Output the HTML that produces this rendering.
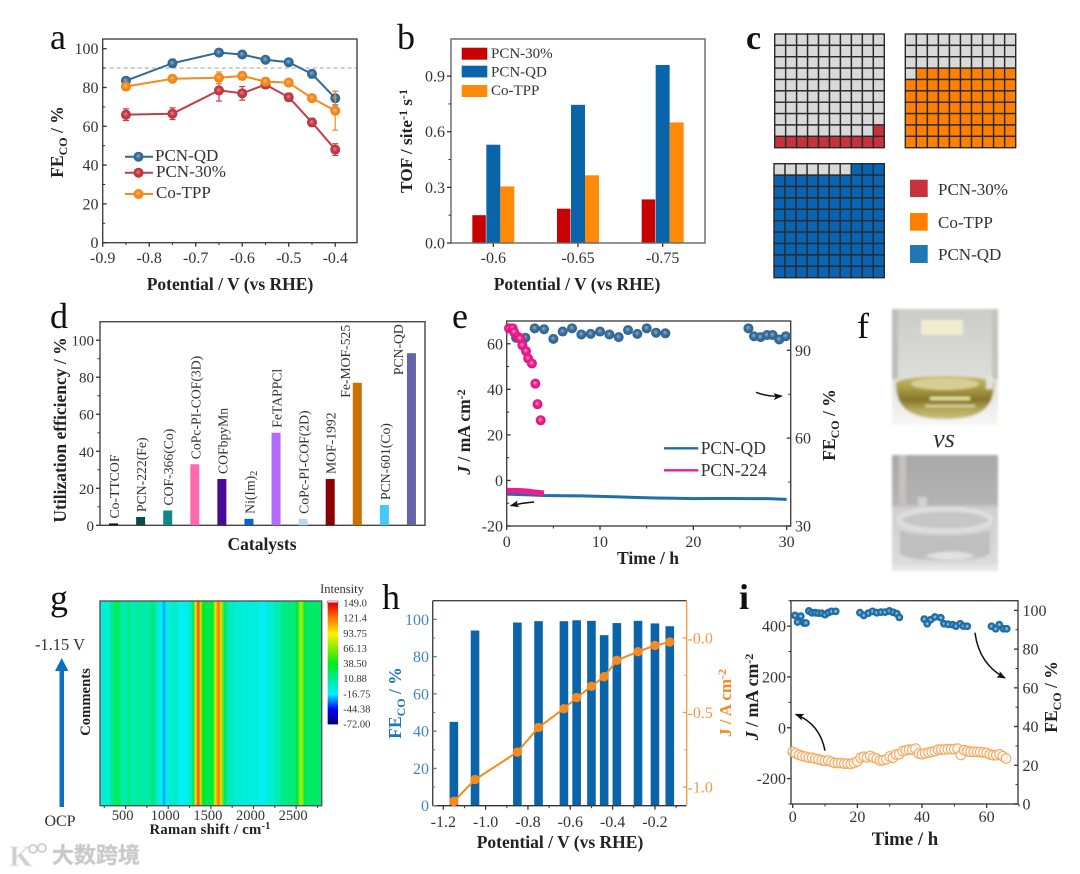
<!DOCTYPE html>
<html lang="en">
<head>
<meta charset="utf-8">
<title>Electrocatalysis figure panels a–i</title>
<style>
html,body{margin:0;padding:0;background:#fff;width:1080px;height:874px;overflow:hidden}
svg{display:block;filter:blur(.35px)}
text{font-family:"Liberation Serif","Noto Serif CJK SC",serif;fill:#333}
.t{font-weight:bold;fill:#222;font-size:17.5px}
.p{font-size:36px;fill:#111}
.l{font-size:17px;fill:#333}
</style>
</head>
<body>
<svg id="figure" xmlns="http://www.w3.org/2000/svg" width="1080" height="874" viewBox="0 0 1080 874">
<defs>
<radialGradient id="ball-blue" cx=".5" cy=".5" r=".55" fx=".45" fy=".42"><stop offset="0" stop-color="#8fb4cf"/><stop offset=".45" stop-color="#3a6f9c"/><stop offset="1" stop-color="#2a5f8c"/></radialGradient>
<radialGradient id="ball-red" cx=".5" cy=".5" r=".55" fx=".45" fy=".42"><stop offset="0" stop-color="#e08a90"/><stop offset=".45" stop-color="#c53c48"/><stop offset="1" stop-color="#b8303c"/></radialGradient>
<radialGradient id="ball-orange" cx=".5" cy=".5" r=".55" fx=".45" fy=".42"><stop offset="0" stop-color="#fbc080"/><stop offset=".45" stop-color="#f58a1f"/><stop offset="1" stop-color="#ee8010"/></radialGradient>
<radialGradient id="ball-pink" cx=".5" cy=".5" r=".55" fx=".45" fy=".42"><stop offset="0" stop-color="#f8a8d0"/><stop offset=".45" stop-color="#ee1c8c"/><stop offset="1" stop-color="#e01080"/></radialGradient>
<radialGradient id="ball-i" cx=".5" cy=".5" r=".55"><stop offset="0" stop-color="#b8d8ec"/><stop offset=".5" stop-color="#1f6fa8"/><stop offset="1" stop-color="#1a68a0"/></radialGradient>
<marker id="head" markerWidth="9" markerHeight="7" refX="8" refY="3.5" orient="auto" markerUnits="userSpaceOnUse"><path d="M0 0L9 3.5L0 7L2 3.5Z" fill="#111"/></marker>
<clipPath id="heat-clip"><rect x="100" y="601" width="221.7" height="204.7"/></clipPath>
<filter id="soft" x="-5%" y="-5%" width="110%" height="110%"><feGaussianBlur stdDeviation="0.6"/></filter>
<filter id="soft2" x="-5%" y="-5%" width="110%" height="110%"><feGaussianBlur stdDeviation="1.4"/></filter>
<linearGradient id="photo1-bg" x1="0" y1="0" x2="0" y2="1"><stop offset="0" stop-color="#cbccc8"/><stop offset=".55" stop-color="#dcdcd8"/><stop offset=".75" stop-color="#e8e8e4"/><stop offset="1" stop-color="#f6f6f4"/></linearGradient>
<linearGradient id="photo1-liquid" x1="0" y1="0" x2="0" y2="1"><stop offset="0" stop-color="#c7bb6a"/><stop offset=".3" stop-color="#a89a42"/><stop offset=".55" stop-color="#83762a"/><stop offset=".8" stop-color="#b7ab5c"/><stop offset="1" stop-color="#c7bf84"/></linearGradient>
<linearGradient id="photo2-bg" x1="0" y1="0" x2="0" y2="1"><stop offset="0" stop-color="#a9a8a8"/><stop offset=".42" stop-color="#b4b3b3"/><stop offset=".46" stop-color="#cfcfcf"/><stop offset="1" stop-color="#dcdcdc"/></linearGradient>
</defs>

<rect x="0" y="0" width="1080" height="874" fill="#fff"/>

<g id="panel-a"></g>
<g id="panel-b"></g>
<g id="panel-c"></g>
<g id="panel-d"></g>
<g id="panel-e"></g>
<g id="panel-g"></g>
<g id="panel-h"></g>
<g id="panel-i"></g>

<!-- panel letters -->
<text class="p" x="50" y="49">a</text>
<text class="p" x="397" y="49">b</text>
<text class="p" x="746" y="49" style="font-weight:bold;font-size:34px">c</text>
<text class="p" x="50" y="328">d</text>
<text class="p" x="452" y="328">e</text>
<text class="p" x="857" y="338">f</text>
<text class="p" x="50" y="610">g</text>
<text class="p" x="382" y="609">h</text>
<text class="p" x="739" y="609" style="font-weight:bold">i</text>

<!-- panel a static -->
<text class="t" x="230" y="290" text-anchor="middle">Potential / V (vs RHE)</text>
<text class="t" transform="translate(63 142) rotate(-90)" text-anchor="middle">FE<tspan font-size="12" dy="4">CO</tspan><tspan dy="-4"> / %</tspan></text>
<g>
<line x1="125" x2="153" y1="156.7" y2="156.7" stroke="#2f6a93" stroke-width="2"/><circle cx="138.5" cy="156.7" r="5" fill="url(#ball-blue)"/>
<text class="l" x="155" y="161">PCN-QD</text>
<line x1="125" x2="153" y1="172.7" y2="172.7" stroke="#c53c48" stroke-width="2"/><circle cx="138.5" cy="172.7" r="5" fill="url(#ball-red)"/>
<text class="l" x="156" y="177">PCN-30%</text>
<line x1="125" x2="153" y1="194" y2="194" stroke="#f58a1f" stroke-width="2"/><circle cx="138.5" cy="194" r="5" fill="url(#ball-orange)"/>
<text class="l" x="156" y="198">Co-TPP</text>
</g>

<!-- panel b static -->
<text class="t" x="577" y="290" text-anchor="middle">Potential / V (vs RHE)</text>
<text class="t" transform="translate(412 141) rotate(-90)" text-anchor="middle" style="font-size:17.3px">TOF / site<tspan font-size="12" dy="-5">-1</tspan><tspan dy="5"> s</tspan><tspan font-size="12" dy="-5">-1</tspan></text>
<g>
<rect x="461.7" y="47.7" width="25.6" height="12" fill="#c80000"/><text class="l" x="491" y="58" style="font-size:15px">PCN-30%</text>
<rect x="461.7" y="65.7" width="25.6" height="11.7" fill="#0a64aa"/><text class="l" x="491" y="76.5" style="font-size:15px">PCN-QD</text>
<rect x="461.7" y="85" width="25.6" height="12" fill="#ff8a0a"/><text class="l" x="491" y="95" style="font-size:15px">Co-TPP</text>
</g>

<!-- panel c legend -->
<g>
<rect x="910" y="179.7" width="17.7" height="17.3" fill="#c8323c"/><text class="l" x="938" y="195">PCN-30%</text>
<rect x="910" y="213" width="17.7" height="17.7" fill="#ff8000"/><text class="l" x="938" y="228">Co-TPP</text>
<rect x="910" y="245" width="17.7" height="18" fill="#1f77b4"/><text class="l" x="938" y="260">PCN-QD</text>
</g>

<!-- panel d static -->
<text class="t" x="262" y="550" text-anchor="middle">Catalysts</text>
<text class="t" transform="translate(66 430) rotate(-90)" text-anchor="middle">Utilization efficiency / %</text>

<!-- panel e static -->
<text class="t" x="648" y="564" text-anchor="middle">Time / h</text>
<text class="t" transform="translate(470 432) rotate(-90)" text-anchor="middle"><tspan font-style="italic">J</tspan> / mA cm<tspan font-size="12" dy="-5">-2</tspan></text>
<text class="t" transform="translate(835 425) rotate(-90)" text-anchor="middle">FE<tspan font-size="12" dy="4">CO</tspan><tspan dy="-4"> / %</tspan></text>
<g>
<line x1="664" x2="698.3" y1="448.3" y2="448.3" stroke="#1f6fa8" stroke-width="2.4"/>
<text class="l" x="700.7" y="454" style="font-size:17.5px">PCN-QD</text>
<line x1="664" x2="698.3" y1="470.3" y2="470.3" stroke="#ee1c8c" stroke-width="2.4"/>
<text class="l" x="700.7" y="476" style="font-size:17.5px">PCN-224</text>
</g>
<path d="M756 392.3Q768 397 781.7 396" fill="none" stroke="#111" stroke-width="1.4" marker-end="url(#head)"/>
<path d="M534 502Q522 503 510.7 505.7" fill="none" stroke="#111" stroke-width="1.4" marker-end="url(#head)"/>

<!-- panel f photos -->
<g filter="url(#soft2)">
<rect x="892" y="309" width="106" height="116" fill="url(#photo1-bg)"/>
<rect x="892" y="309" width="6" height="70" fill="#bdbdb9"/>
<rect x="992" y="309" width="6" height="70" fill="#c4c3bc"/>
<rect x="921" y="320" width="42" height="15" fill="#f1ecd0"/>
<path d="M896 383C900 374 990 374 994 383C994 405 984 419 945 419C906 419 896 405 896 383Z" fill="url(#photo1-liquid)"/>
<ellipse cx="945" cy="384" rx="34" ry="6" fill="#d6cf94"/>
<rect x="930" y="397" width="40" height="3" fill="#efe7a8"/>
<rect x="925" y="405" width="50" height="2" fill="#e8dfa0"/>
<rect x="986" y="375" width="7" height="14" fill="#e4e3d8"/>
</g>
<text x="944" y="447" text-anchor="middle" font-style="italic" font-size="26" fill="#222">vs</text>
<g filter="url(#soft2)">
<rect x="892" y="455" width="106" height="115.7" fill="url(#photo2-bg)"/>
<rect x="899" y="455" width="7" height="50" fill="#c4c2bd"/>
<rect x="918" y="497" width="9" height="12" fill="#d2d2d2"/>
<ellipse cx="945" cy="520" rx="46" ry="11" fill="#c6c6c6" stroke="#dedede" stroke-width="5"/>
<path d="M900 530C915 537 975 537 990 530V553C985 563 905 563 900 553Z" fill="#bfbfbf"/>
<path d="M925 556C945 549 965 551 975 556C965 561 935 561 925 556Z" fill="#e2e2e2"/>
<rect x="892" y="565" width="106" height="5.7" fill="#e6e6e6"/>
</g>

<!-- panel g static -->
<path d="M59.5 807V671H55L61.7 658L68.4 671H64V807Z" fill="#0a70c0"/>
<text x="60" y="650" text-anchor="middle" font-size="16.5" fill="#222">-1.15 V</text>
<text x="60" y="826" text-anchor="middle" font-size="16" fill="#222">OCP</text>
<text class="t" transform="translate(90 702) rotate(-90)" text-anchor="middle" style="font-size:14.7px">Comments</text>
<text class="t" x="210" y="834" text-anchor="middle" style="font-size:14.7px;letter-spacing:.3px">Raman shift / cm<tspan font-size="10" dy="-5">-1</tspan></text>
<text x="342" y="593" text-anchor="middle" font-size="12.5" fill="#333">Intensity</text>

<!-- panel h static -->
<text class="t" x="560" y="848" text-anchor="middle">Potential / V (vs RHE)</text>
<text class="t" transform="translate(401 703) rotate(-90)" text-anchor="middle" style="fill:#1e78b4">FE<tspan font-size="12" dy="4" style="fill:#1e78b4">CO</tspan><tspan dy="-4" style="fill:#1e78b4"> / %</tspan></text>
<text class="t" transform="translate(731 703) rotate(-90)" text-anchor="middle" style="fill:#f08a24;font-size:17px">J / A cm<tspan font-size="12" dy="-5" style="fill:#f08a24">-2</tspan></text>

<!-- panel i static -->
<text class="t" x="905" y="845" text-anchor="middle" style="font-size:18.8px">Time / h</text>
<text class="t" transform="translate(758 697) rotate(-90)" text-anchor="middle" style="font-size:17.8px"><tspan font-style="italic">J</tspan> / mA cm<tspan font-size="12" dy="-5">-2</tspan></text>
<text class="t" transform="translate(1057 697) rotate(-90)" text-anchor="middle" style="font-size:17.5px">FE<tspan font-size="12" dy="4">CO</tspan><tspan dy="-4"> / %</tspan></text>
<path d="M975 632.7Q979 664 1005 678" fill="none" stroke="#111" stroke-width="1.5" marker-end="url(#head)"/>
<path d="M825 750.7Q820 724 795.7 714.3" fill="none" stroke="#111" stroke-width="1.5" marker-end="url(#head)"/>

<!-- watermark -->
<g>
<text x="9" y="866" font-size="30" font-weight="bold" style="fill:#cfcfcf;stroke:#f2f2f2;stroke-width:1">K</text>
<circle cx="33" cy="849" r="4" fill="none" stroke="#cfcfcf" stroke-width="2"/>
<circle cx="42" cy="848" r="4" fill="none" stroke="#cfcfcf" stroke-width="2"/>
<text x="52" y="863" font-size="22" font-weight="bold" style="font-family:'Liberation Sans','Noto Sans CJK SC',sans-serif;fill:#c9c9c9;stroke:#eee;stroke-width:1;paint-order:stroke">大数跨境</text>
</g>
</svg>

<script>
/* ---------- panel a ---------- */
var aPotential = [-0.85,-0.75,-0.65,-0.6,-0.55,-0.5,-0.45,-0.4];
var aFeQD = [83.5,92.5,98,97,94.3,93,87,74.5];
var aFe30 = [66,66.5,78.5,77,81.5,75,62,48];
var aFeCo = [80.5,84.5,85,86,83,82.5,74.5,68];
var aErrQD = [1,2,1,1,1,1,2,3.5];
var aErr30 = [3,3,5.5,3.5,2,2,2,3];
var aErrCo = [2,1.5,3,2,2,1.5,1.5,10];
var aThreshold = 90;
var aXTicks = [-0.9,-0.8,-0.7,-0.6,-0.5,-0.4];
var aXLabels = ['-0.9','-0.8','-0.7','-0.6','-0.5','-0.4'];
var aYTicks = [0,20,40,60,80,100];
var aYLabels = ['0','20','40','60','80','100'];

/* ---------- panel b ---------- */
var bCategories = ['-0.6','-0.65','-0.75'];
var bPcn30 = [0.15,0.185,0.235];
var bPcnQD = [0.53,0.745,0.96];
var bCoTPP = [0.305,0.365,0.65];
var bYTicks = [0,0.3,0.6,0.9];
var bYLabels = ['0.0','0.3','0.6','0.9'];

/* ---------- panel c ---------- */
var cWaffleValues = [11,69,93];

/* ---------- panel d ---------- */
var dCatalysts = ['Co-TTCOF','PCN-222(Fe)','COF-366(Co)','CoPc-PI-COF(3D)','COFbpyMn','Ni(Im)2','FeTAPPCl','CoPc-PI-COF(2D)','MOF-1992','Fe-MOF-525','PCN-601(Co)','PCN-QD'];
var dEfficiency = [1,4.5,8,33,25,3.5,50,3.5,25,77,11,93];
var dColors = ['#111','#0a4a4a','#0d8a86','#ff69b0','#480a96','#0a64c8','#b469ff','#b4d8ff','#8b0000','#cc7000','#46c8ff','#6464aa'];
var dYTicks = [0,20,40,60,80,100];
var dYLabels = ['0','20','40','60','80','100'];

/* ---------- panel e ---------- */
var eTimeQD = [0,2,4,6,8,10,12,14,16,18,20,22,24,26,28,30];
var eJQD = [-6,-6.3,-6.6,-6.7,-6.8,-7,-7.2,-7.5,-7.7,-7.8,-8,-7.9,-7.9,-8,-8,-8.3];
var eTime224 = [0,0.5,1,1.5,2,2.5,3,3.5,4];
var eJ224 = [-4.4,-4.5,-4.5,-4.6,-4.7,-4.9,-5.2,-5.4,-5.6];
var eFeTimeQD = [1,2,3,4,5,6,7,8,9,10,11,12,13,14,15,16,17,25.9,26.5,27.2,27.9,28.5,29.2,29.9];
var eFeQD = [94.3,94.3,97.5,97.2,93.9,96.4,97.5,95.4,95.6,96.4,95.4,94.5,96.9,95.6,97.5,96,95.8,97.5,94.8,94.5,95.2,95.2,93.7,94.8];
var eFeTime224 = [0.25,0.64,0.8,1.2,1.43,1.68,2.07,2.3,2.7,3.07,3.3,3.64];
var eFe224 = [97.5,97.5,96.2,94.6,94,91.7,89.7,87.2,85.5,78.6,71.6,66.1];
var eXTicks = [0,10,20,30];
var eXLabels = ['0','10','20','30'];
var eYTicks = [-20,0,20,40,60];
var eYLabels = ['-20','0','20','40','60'];
var eY2Ticks = [30,60,90];
var eY2Labels = ['30','60','90'];

/* ---------- panel g ---------- */
var gRamanShift = [200,298,337,376,427,454,505,532,571,669,767,817,845,884,923,950,982,1040,1099,1138,1216,1263,1302,1326,1345,1365,1380,1400,1470,1529,1552,1576,1595,1615,1634,1654,1724,1841,1998,2115,2193,2291,2349,2467,2525,2549,2568,2592,2643,2721,2799];
var gIntensity = [-8,-6,10,22,25,5,3,18,4,8,5,18,12,-8,-14,-26,-12,-4,-3,-14,-12,0,30,100,130,125,80,38,28,35,85,115,125,100,60,22,0,-6,-8,-13,-5,2,15,18,30,75,70,30,20,24,18];
var gXTicks = [500,1000,1500,2000,2500];
var gXLabels = ['500','1000','1500','2000','2500'];
var gColorbarLevels = [149,121.4,93.75,66.13,38.5,10.88,-16.75,-44.38,-72];
var gColorbarLabels = ['149.0','121.4','93.75','66.13','38.50','10.88','-16.75','-44.38','-72.00'];

/* ---------- panel h ---------- */
var hPotential = [-1.15,-1.05,-0.85,-0.75,-0.63,-0.57,-0.5,-0.44,-0.38,-0.28,-0.2,-0.13];
var hFE = [45,94,98.3,99,99,99.5,99.2,91.5,98,99.2,97.8,96.3];
var hJ = [-1.096,-0.95,-0.765,-0.6,-0.474,-0.4,-0.324,-0.26,-0.15,-0.092,-0.05,-0.027];
var hXTicks = [-1.2,-1,-0.8,-0.6,-0.4,-0.2];
var hXLabels = ['-1.2','-1.0','-0.8','-0.6','-0.4','-0.2'];
var hYTicks = [0,20,40,60,80,100];
var hYLabels = ['0','20','40','60','80','100'];
var hY2Ticks = [0,-0.5,-1];
var hY2Labels = ['-0.0','-0.5','-1.0'];

/* ---------- panel i ---------- */
var iFeTime = [0.7,1.5,2.5,3.5,4.1,5,5.9,6.9,7.9,9,10,11,12,13.3,20.8,22,23.4,24.7,26,27.3,28.6,29.9,31.1,32.2,33,40.7,41.6,42.7,44,45.8,46.8,48.1,49.5,50.5,51.8,52.8,54,61.5,62.8,63.9,65.2,66.2];
var iFe = [97.4,94,97,93.5,93.5,99.7,98.8,98.8,98.6,98.5,97.8,98.8,99.5,99.5,98.8,97.4,98.6,99.5,98.8,99.1,99.1,99.7,99,98.3,96.4,95.5,93.1,95.2,96.6,96.2,93.1,92.8,92.6,91.9,93.1,91.9,91.8,91.8,90.5,92.6,90.5,90.5];
var iJTime = [0,1,2,3,4,5,6,7,8,9,10,11,12,13,14,15,16,17,18,19,20,21,22,23,24,25,26,27,28,29,30,31,32,33,34,35,36,37,38,39,40,41,42,43,44,45,46,47,48,49,50,51,52,53,54,55,56,57,58,59,60,61,62,63,64,65,66];
var iJ = [-95,-101,-107,-111,-114,-118,-118,-122,-125,-128,-130,-129,-134,-138,-139,-139,-141,-141,-142,-138,-132,-118,-114,-117,-111,-118,-122,-129,-128,-124,-113,-118,-105,-104,-92,-89,-86,-86,-82,-101,-104,-101,-97,-95,-92,-86,-86,-86,-84,-84,-84,-82,-107,-88,-92,-95,-95,-95,-96,-97,-99,-105,-108,-108,-104,-112,-121];
var iXTicks = [0,20,40,60];
var iXLabels = ['0','20','40','60'];
var iYTicks = [-200,0,200,400];
var iYLabels = ['-200','0','200','400'];
var iY2Ticks = [0,20,40,60,80,100];
var iY2Labels = ['0','20','40','60','80','100'];

/* ---------- helpers ---------- */
var NS = 'http://www.w3.org/2000/svg';
function add(parent, tag, name, attrs) {
  var el = document.createElementNS(NS, tag);
  
  
  for (var k in attrs) { el.setAttribute(k, attrs[k]); }
  parent.appendChild(el);
  return el;
}
function label(parent, name, x, y, str, attrs) {
  var el = add(parent, 'text', name, attrs);
  el.setAttribute('x', x);
  el.setAttribute('y', y);
  el.textContent = str;
  return el;
}
function linear(d0, d1, r0, r1) { return function (v) { return r0 + (v - d0) * (r1 - r0) / (d1 - d0); }; }
function band(n, r0, r1) { var s = (r1 - r0) / n; var f = function (i) { return r0 + s * (i + 0.5); }; f.step = s; return f; }
function midpoints(t) { var o = []; for (var i = 0; i + 1 < t.length; i++) { o.push((t[i] + t[i + 1]) / 2); } return o; }
function frame(g, name, l, t, r, b, stroke) {
  return add(g, 'rect', name, { x: l, y: t, width: r - l, height: b - t, fill: 'none', stroke: stroke || '#444', 'stroke-width': 1.4 });
}
function xAxis(g, pre, sc, y, ticks, labels, minors, labelY, size, len) {
  ticks.forEach(function (t, i) {
    add(g, 'line', pre + '-x-tick', { x1: sc(t), x2: sc(t), y1: y, y2: y + (len || 4), stroke: '#333', 'stroke-width': 1.3 });
    label(g, pre + '-x-tick-label', sc(t), labelY, labels[i], { 'text-anchor': 'middle', 'font-size': size || 16 });
  });
  (minors || []).forEach(function (t) {
    add(g, 'line', pre + '-x-minor-tick', { x1: sc(t), x2: sc(t), y1: y, y2: y + 2.5, stroke: '#333', 'stroke-width': 1 });
  });
}
function yAxis(g, pre, sc, x, dir, ticks, labels, minors, labelX, anchor, color, size) {
  ticks.forEach(function (t, i) {
    add(g, 'line', pre + '-tick', { x1: x, x2: x + dir * 4, y1: sc(t), y2: sc(t), stroke: color || '#333', 'stroke-width': 1.3 });
    var el = label(g, pre + '-tick-label', labelX, sc(t) + 5.5, labels[i], { 'text-anchor': anchor, 'font-size': size || 16 });
    if (color) { el.style.fill = color; }
  });
  (minors || []).forEach(function (t) {
    add(g, 'line', pre + '-minor-tick', { x1: x, x2: x + dir * 2.5, y1: sc(t), y2: sc(t), stroke: color || '#333', 'stroke-width': 1 });
  });
}
function polyline(g, name, xs, ys, sx, sy, color, w) {
  var pts = xs.map(function (v, i) { return sx(v) + ',' + sy(ys[i]); }).join(' ');
  return add(g, 'polyline', name, { points: pts, fill: 'none', stroke: color, 'stroke-width': w, 'stroke-linejoin': 'round' });
}
function dots(g, name, xs, ys, sx, sy, r, fill, stroke) {
  xs.forEach(function (v, i) {
    var c = add(g, 'circle', name, { cx: sx(v), cy: sy(ys[i]), r: r, fill: fill });
    if (stroke) { c.setAttribute('stroke', stroke); c.setAttribute('stroke-width', 1.1); c.setAttribute('fill-opacity', 0.55); }
  });
}

/* ---------- draw panel a ---------- */
(function () {
  var g = document.getElementById('panel-a');
  var x = linear(-0.9, -0.35, 102.7, 358.5);
  var y = linear(0, 105, 242.7, 39);
  add(g, 'line', 'a-threshold-line', { x1: 102.7, x2: 357, y1: y(aThreshold), y2: y(aThreshold), stroke: '#bbb', 'stroke-width': 1.4, 'stroke-dasharray': '4 3' });
  frame(g, 'a-plot-frame', 102.7, 39, 357, 242.7);
  xAxis(g, 'a', x, 242.7, aXTicks, aXLabels, midpoints(aXTicks), 263);
  yAxis(g, 'a-y', y, 102.7, 1, aYTicks, aYLabels, midpoints(aYTicks), 98.5, 'end');
  function err(name, ys, es, color) {
    aPotential.forEach(function (p, i) {
      var px = x(p);
      add(g, 'line', name + '-error-bar', { x1: px, x2: px, y1: y(ys[i] - es[i]), y2: y(ys[i] + es[i]), stroke: color, 'stroke-width': 1.2 });
      add(g, 'line', name + '-error-cap', { x1: px - 3, x2: px + 3, y1: y(ys[i] - es[i]), y2: y(ys[i] - es[i]), stroke: color, 'stroke-width': 1.2 });
      add(g, 'line', name + '-error-cap', { x1: px - 3, x2: px + 3, y1: y(ys[i] + es[i]), y2: y(ys[i] + es[i]), stroke: color, 'stroke-width': 1.2 });
    });
  }
  err('a-pcn-qd', aFeQD, aErrQD, '#2f6a93');
  polyline(g, 'a-line-pcn-qd', aPotential, aFeQD, x, y, '#2f6a93', 2);
  dots(g, 'a-point-pcn-qd', aPotential, aFeQD, x, y, 5, 'url(#ball-blue)');
  err('a-pcn-30', aFe30, aErr30, '#c53c48');
  polyline(g, 'a-line-pcn-30', aPotential, aFe30, x, y, '#c53c48', 2);
  dots(g, 'a-point-pcn-30', aPotential, aFe30, x, y, 5, 'url(#ball-red)');
  err('a-co-tpp', aFeCo, aErrCo, '#f58a1f');
  polyline(g, 'a-line-co-tpp', aPotential, aFeCo, x, y, '#f58a1f', 2);
  dots(g, 'a-point-co-tpp', aPotential, aFeCo, x, y, 5, 'url(#ball-orange)');
})();

/* ---------- draw panel b ---------- */
(function () {
  var g = document.getElementById('panel-b');
  var x = band(bCategories.length, 451, 705);
  var y = linear(0, 1.1, 243, 39);
  var w = 14;
  bCategories.forEach(function (c, i) {
    var cx = x(i);
    add(g, 'rect', 'b-bar-pcn-30', { x: cx - 1.5 * w, y: y(bPcn30[i]), width: w - 0.5, height: 243 - y(bPcn30[i]), fill: '#c80000' });
    add(g, 'rect', 'b-bar-pcn-qd', { x: cx - 0.5 * w, y: y(bPcnQD[i]), width: w, height: 243 - y(bPcnQD[i]), fill: '#0a64aa' });
    add(g, 'rect', 'b-bar-co-tpp', { x: cx + 0.5 * w, y: y(bCoTPP[i]), width: w, height: 243 - y(bCoTPP[i]), fill: '#ff8a0a' });
    add(g, 'line', 'b-x-tick', { x1: cx, x2: cx, y1: 243, y2: 247, stroke: '#333', 'stroke-width': 1.3 });
    label(g, 'b-x-tick-label', cx, 263, c, { 'text-anchor': 'middle', 'font-size': 16 });
  });
  frame(g, 'b-plot-frame', 451, 39, 705, 243, '#666');
  yAxis(g, 'b-y', y, 451, -1, bYTicks, bYLabels, midpoints(bYTicks), 445, 'end');
})();

/* ---------- draw panel c ---------- */
(function () {
  var g = document.getElementById('panel-c');
  function waffle(name, value, color, l, t, r, b) {
    var cw = (r - l) / 10, ch = (b - t) / 10;
    var wg = add(g, 'g', name, {});
    for (var row = 0; row < 10; row++) {
      for (var col = 0; col < 10; col++) {
        var filledIndex = (9 - row) * 10 + (9 - col);
        var c = filledIndex < value ? color : '#d9d9d9';
        add(wg, 'rect', name + '-cell', { x: l + col * cw, y: t + row * ch, width: cw, height: ch, fill: c, stroke: '#2a2a2a', 'stroke-width': 1.4 });
      }
    }
  }
  waffle('c-waffle-pcn-30', cWaffleValues[0], '#c8323c', 774.7, 34, 884.3, 147.7);
  waffle('c-waffle-co-tpp', cWaffleValues[1], '#ff8000', 905.3, 34, 1015.7, 147.7);
  waffle('c-waffle-pcn-qd', cWaffleValues[2], '#0a64b4', 774, 163.7, 884.3, 277.7);
})();

/* ---------- draw panel d ---------- */
(function () {
  var g = document.getElementById('panel-d');
  var x = band(dCatalysts.length, 100, 425);
  var y = linear(0, 110, 525.3, 321.7);
  frame(g, 'd-plot-frame', 100, 321.7, 425, 525.3);
  yAxis(g, 'd-y', y, 100, -1, dYTicks, dYLabels, midpoints(dYTicks), 94, 'end', null, 15);
  dCatalysts.forEach(function (name, i) {
    var cx = x(i), top = y(dEfficiency[i]);
    add(g, 'rect', 'd-bar', { x: cx - 4.5, y: top, width: 9, height: 525.3 - top, fill: dColors[i] });
    var lx = cx + 1, ly = top - 5;
    if (name === 'Fe-MOF-525') { lx = cx - 12; ly = top + 15; }
    if (name === 'PCN-QD') { lx = cx - 13; ly = top + 22; }
    var t = add(g, 'text', 'd-bar-label', { transform: 'translate(' + lx + ' ' + ly + ') rotate(-90)', 'font-size': 13.7, 'dominant-baseline': 'central' });
    if (name === 'Ni(Im)2') {
      t.textContent = 'Ni(Im)';
      var sub = add(t, 'tspan', 'd-bar-label-subscript', { 'font-size': 10, dy: 4 });
      sub.textContent = '2';
    } else {
      t.textContent = name;
    }
  });
})();

/* ---------- draw panel e ---------- */
(function () {
  var g = document.getElementById('panel-e');
  var x = linear(0, 30.43, 506.7, 790.7);
  var y = linear(-20, 70, 526, 321);
  var y2 = linear(30, 100, 526, 321);
  frame(g, 'e-plot-frame', 506.7, 321, 790.7, 526);
  xAxis(g, 'e', x, 526, eXTicks, eXLabels, midpoints(eXTicks), 547);
  yAxis(g, 'e-y-left', y, 506.7, 1, eYTicks, eYLabels, midpoints(eYTicks), 503, 'end');
  yAxis(g, 'e-y-right', y2, 790.7, -1, eY2Ticks, eY2Labels, midpoints(eY2Ticks), 795, 'start');
  polyline(g, 'e-line-j-pcn-qd', eTimeQD, eJQD, x, y, '#1f6fa8', 3);
  polyline(g, 'e-line-j-pcn-224', eTime224, eJ224, x, y, '#ee1c8c', 5.5);
  dots(g, 'e-point-fe-pcn-qd', eFeTimeQD, eFeQD, x, y2, 5, 'url(#ball-blue)');
  dots(g, 'e-point-fe-pcn-224', eFeTime224, eFe224, x, y2, 5, 'url(#ball-pink)');
})();

/* ---------- draw panel g ---------- */
(function () {
  var g = document.getElementById('panel-g');
  var x = linear(200, 2800, 100, 321.7);
  var cbY = linear(-72, 149, 724, 603);
  var hexStops = [[-72, [0, 0, 110]], [-44.38, [0, 0, 255]], [-16.75, [0, 240, 255]], [10.88, [0, 235, 150]], [38.5, [0, 235, 30]], [66.13, [130, 235, 0]], [93.75, [255, 240, 0]], [121.4, [255, 120, 0]], [149, [230, 0, 0]]];
  function cmap(v) {
    for (var i = 0; i + 1 < hexStops.length; i++) {
      if (v <= hexStops[i + 1][0]) {
        var a = hexStops[i], b = hexStops[i + 1], t = Math.max(0, (v - a[0]) / (b[0] - a[0]));
        return 'rgb(' + [0, 1, 2].map(function (k) { return Math.round(a[1][k] + (b[1][k] - a[1][k]) * t); }).join(',') + ')';
      }
    }
    return 'rgb(230,0,0)';
  }
  var clip = add(g, 'g', 'g-heatmap-clip', { 'clip-path': 'url(#heat-clip)' });
  var strips = add(clip, 'g', 'g-heatmap', { filter: 'url(#soft)' });
  gRamanShift.forEach(function (wn, i) {
    var left = i === 0 ? x(wn) - 6 : (x(gRamanShift[i - 1]) + x(wn)) / 2;
    var right = i === gRamanShift.length - 1 ? x(wn) + 6 : (x(wn) + x(gRamanShift[i + 1])) / 2;
    add(strips, 'rect', 'g-heatmap-strip', { x: left, y: 595, width: right - left + 0.3, height: 216, fill: cmap(gIntensity[i]) });
  });
  frame(g, 'g-plot-frame', 100, 601, 321.7, 805.7, '#555');
  gXTicks.forEach(function (t, i) {
    add(g, 'line', 'g-x-tick', { x1: x(t), x2: x(t), y1: 805.7, y2: 809, stroke: '#333', 'stroke-width': 1.1 });
    label(g, 'g-x-tick-label', x(t) - 3, 820, gXLabels[i], { 'text-anchor': 'middle', 'font-size': 14.5 });
  });
  midpoints(gXTicks).concat([250, 2750]).forEach(function (t) {
    add(g, 'line', 'g-x-minor-tick', { x1: x(t), x2: x(t), y1: 805.7, y2: 808, stroke: '#333', 'stroke-width': 1 });
  });
  add(g, 'rect', 'colorbar-top-cap', { x: 327.7, y: 601, width: 10.3, height: 2.5, fill: '#fff', stroke: '#555', 'stroke-width': 0.6 });
  for (var v = -72; v < 149; v += 2) {
    add(g, 'rect', 'colorbar-cell', { x: 327.7, y: cbY(v + 2), width: 10.3, height: cbY(v) - cbY(v + 2) + 0.4, fill: cmap(v + 1) });
  }
  gColorbarLevels.forEach(function (lv, i) {
    label(g, 'colorbar-tick-label', 343.3, cbY(lv) + 3.5, gColorbarLabels[i], { 'font-size': 10.5, fill: '#333' });
  });
})();

/* ---------- draw panel h ---------- */
(function () {
  var g = document.getElementById('panel-h');
  var x = linear(-1.25, -0.05, 432.7, 686.7);
  var y = linear(0, 110, 805.7, 600.7);
  var y2 = linear(-1.125, 0.25, 805.7, 600.7);
  hPotential.forEach(function (p, i) {
    add(g, 'rect', 'h-bar-fe', { x: x(p) - 4.3, y: y(hFE[i]), width: 8.6, height: 805.7 - y(hFE[i]), fill: '#0a64aa' });
  });
  add(g, 'line', 'h-top-spine', { x1: 432.7, x2: 686.7, y1: 600.7, y2: 600.7, stroke: '#444', 'stroke-width': 1.4 });
  add(g, 'line', 'h-bottom-spine', { x1: 432.7, x2: 686.7, y1: 805.7, y2: 805.7, stroke: '#333', 'stroke-width': 1.4 });
  add(g, 'line', 'h-left-spine', { x1: 432.7, x2: 432.7, y1: 600.7, y2: 805.7, stroke: '#444', 'stroke-width': 1.4 });
  add(g, 'line', 'h-right-spine', { x1: 686.7, x2: 686.7, y1: 600.7, y2: 805.7, stroke: '#f5a050', 'stroke-width': 1.4 });
  xAxis(g, 'h', x, 805.7, hXTicks, hXLabels, midpoints(hXTicks).concat([-0.1]), 827);
  yAxis(g, 'h-y-left', y, 432.7, 1, hYTicks, hYLabels, midpoints(hYTicks), 429, 'end', '#3c88be');
  yAxis(g, 'h-y-right', y2, 686.7, -1, hY2Ticks, hY2Labels, midpoints(hY2Ticks), 687.5, 'start', '#ee9a4c');
  polyline(g, 'h-line-j', hPotential, hJ, x, y2, '#f58a1f', 2);
  dots(g, 'h-point-j', hPotential, hJ, x, y2, 4.7, '#f58a1f');
})();

/* ---------- draw panel i ---------- */
(function () {
  var g = document.getElementById('panel-i');
  var x = linear(0, 70, 792.7, 1019);
  var y = linear(-300, 500, 804, 600.7);
  var y2 = linear(0, 105, 804, 600.7);
  frame(g, 'i-plot-frame', 791, 600.7, 1018, 804);
  xAxis(g, 'i', x, 804, iXTicks, iXLabels, midpoints(iXTicks).concat([70]), 822);
  yAxis(g, 'i-y-left', y, 791, -1, iYTicks, iYLabels, midpoints(iYTicks).concat([-300, 500]), 786, 'end');
  yAxis(g, 'i-y-right', y2, 1018, -1, iY2Ticks, iY2Labels, midpoints(iY2Ticks), 1022.5, 'start');
  dots(g, 'i-point-j', iJTime, iJ, x, y, 4.8, '#fff', '#f5a860');
  dots(g, 'i-point-fe', iFeTime, iFe, x, y2, 3.9, 'url(#ball-i)');
})();
</script>
</body>
</html>
